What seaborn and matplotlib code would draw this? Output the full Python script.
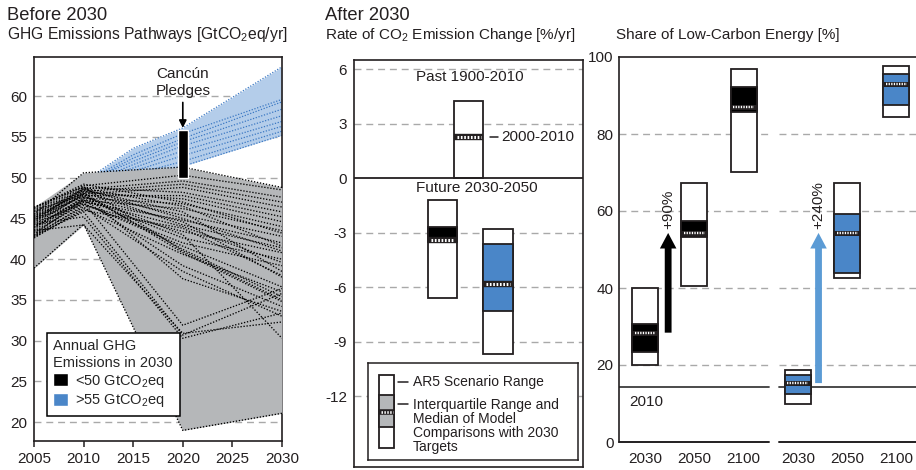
import numpy as np
import pandas as pd
import matplotlib
matplotlib.use("Agg")
import matplotlib.pyplot as plt
import seaborn as sns
from matplotlib.patches import Patch, FancyArrowPatch

# ---------------------------------------------------------------- data
# GHG emission pathways before 2030 [GtCO2eq/yr]
low_years = [2005, 2010, 2020, 2030]
low_paths = [
    [45.5, 50.6, 51.3, 48.8], [46.2, 49.0, 50.3, 48.5], [45.8, 48.6, 49.6, 47.6],
    [45.2, 48.3, 49.2, 47.0], [44.8, 48.0, 48.8, 46.4], [46.0, 48.8, 48.2, 45.8],
    [44.5, 47.8, 47.8, 45.2], [45.0, 48.2, 47.4, 44.6], [44.0, 47.5, 46.8, 44.0],
    [43.6, 47.2, 46.2, 43.5], [44.2, 48.0, 45.4, 42.8], [43.2, 47.0, 44.8, 42.0],
    [45.6, 48.4, 44.2, 41.4], [42.8, 46.6, 43.4, 40.8], [43.0, 47.4, 42.6, 40.0],
    [44.4, 46.8, 42.0, 39.2], [45.0, 48.5, 45.8, 38.5], [43.8, 47.6, 44.6, 37.8],
    [46.4, 48.9, 41.0, 35.0], [44.6, 47.9, 41.2, 35.4], [45.3, 48.1, 40.8, 34.8],
    [43.4, 46.8, 41.6, 36.6], [42.6, 46.2, 40.6, 36.0], [44.0, 47.3, 39.2, 34.2],
    [45.9, 48.0, 37.6, 33.6], [43.0, 46.4, 38.5, 33.0], [44.9, 47.0, 31.9, 36.4],
    [42.9, 45.8, 30.7, 35.8], [44.3, 45.2, 30.3, 33.4], [43.5, 44.2, 30.9, 32.3],
    [45.1, 47.7, 43.0, 30.3], [44.7, 48.7, 46.5, 41.6], [46.3, 49.2, 47.0, 43.2],
    [43.9, 47.1, 44.0, 39.6], [42.7, 46.0, 43.8, 38.0], [45.4, 48.6, 45.0, 41.0],
    [38.9, 44.3, 19.0, 21.1],
]
high_years = [2010, 2015, 2020, 2030]
high_paths = [
    [49.5, 53.6, 56.1, 63.6], [49.3, 52.8, 55.4, 59.6], [49.2, 52.4, 54.8, 59.3],
    [49.4, 52.0, 54.4, 58.4], [49.1, 51.6, 53.9, 57.6], [49.0, 51.2, 53.3, 56.9],
    [49.2, 50.8, 52.7, 56.3], [49.0, 50.4, 52.0, 55.7], [48.9, 50.0, 51.4, 55.2],
]
cancun_year = 2020
cancun_range = [50.0, 55.9]

# Rate of CO2 emission change [%/yr]
past_range = [0.0, 4.25]
past_median = 2.25
rate_low_range = [-6.6, -1.2]
rate_low_iqr = [-3.5, -2.7]
rate_low_median = -3.38
rate_high_range = [-9.7, -2.8]
rate_high_iqr = [-7.3, -3.6]
rate_high_median = -5.85

# Share of low-carbon energy [%]
share_years = ['2030', '2050', '2100']
low_share_lo = [20.0, 40.5, 70.2]
low_share_hi = [40.0, 67.3, 96.9]
low_share_q1 = [23.5, 53.2, 85.8]
low_share_q3 = [30.7, 57.5, 92.3]
low_share_med = [28.4, 54.3, 87.1]
high_share_lo = [9.9, 42.6, 84.4]
high_share_hi = [18.8, 67.3, 97.7]
high_share_q1 = [12.5, 44.0, 87.6]
high_share_q3 = [17.4, 59.3, 95.5]
high_share_med = [15.3, 54.3, 93.0]
share_2010 = 14.2

# ---------------------------------------------------------------- style
sns.set_style("white")
plt.rcParams['font.family'] = ['Liberation Sans', 'DejaVu Sans']
plt.rcParams['mathtext.fontset'] = 'custom'
plt.rcParams['mathtext.rm'] = 'Liberation Sans'
plt.rcParams['mathtext.it'] = 'Liberation Sans:italic'
plt.rcParams['mathtext.bf'] = 'Liberation Sans:bold'
plt.rcParams['axes.unicode_minus'] = False

TEXT = '#231f20'
EDGE = '#231f20'
GRID = '#a9a9a9'
GRAY_FILL = '#b5b7b9'
BLUE_FILL = '#b4cdea'
BLUE_LINE = '#3b78c3'
BLUE_BOX = '#4a86c8'
BLUE_ARROW = '#5b9bd5'
DASH = (0, (5, 3.5))
FS = 11

W, H = 916, 470
fig = plt.figure(figsize=(W / 100, H / 100), dpi=100)


def px_axes(left, top, right, bottom):
    return fig.add_axes([left / W, (H - bottom) / H, (right - left) / W, (bottom - top) / H])


def long_frame(years, paths):
    rows = [(i, y, v) for i, p in enumerate(paths) for y, v in zip(years, p)]
    return pd.DataFrame(rows, columns=['scenario', 'year', 'value'])


def style_spines(ax, lw=1.2):
    for s in ax.spines.values():
        s.set_color(EDGE)
        s.set_linewidth(lw)


def median_band(ax, x, w, m, lw_dark=4.6, lw_white=2.2, z=6):
    ax.plot([x - w / 2, x + w / 2], [m, m], color=EDGE, lw=lw_dark,
            solid_capstyle='butt', zorder=z)
    pad = w * 0.1
    ax.plot([x - w / 2 + pad, x + w / 2 - pad], [m, m], color='white', lw=lw_white,
            linestyle=(0, (0.55, 0.55)), dash_capstyle='butt', zorder=z + 1)


def range_box(ax, x, w, lo, hi, q1=None, q3=None, med=None, color=None,
              lw=1.3, band=(4.6, 2.2)):
    ax.bar(x, hi - lo, bottom=lo, width=w, facecolor='white', edgecolor=EDGE,
           linewidth=lw, zorder=3)
    if q1 is not None:
        ax.bar(x, q3 - q1, bottom=q1, width=w, facecolor=color, edgecolor=EDGE,
               linewidth=lw, zorder=4)
    if med is not None:
        median_band(ax, x, w, med, band[0], band[1])


# ---------------------------------------------------------------- titles
fig.text(7 / W, 1 - 20 / H, 'Before 2030', fontsize=13.2, color=TEXT, va='baseline')
fig.text(7 / W, 1 - 38.5 / H, r'GHG Emissions Pathways [GtCO$_2$eq/yr]', fontsize=11.3,
         color=TEXT, va='baseline')
fig.text(325 / W, 1 - 20 / H, 'After 2030', fontsize=13.2, color=TEXT, va='baseline')
fig.text(325 / W, 1 - 38.5 / H, r'Rate of CO$_2$ Emission Change [%/yr]', fontsize=FS,
         color=TEXT, va='baseline')
fig.text(616 / W, 1 - 38.5 / H, 'Share of Low-Carbon Energy [%]', fontsize=FS,
         color=TEXT, va='baseline')

# ---------------------------------------------------------------- panel 1
ax1 = px_axes(34, 57, 282, 441)
ax1.set_xlim(2005, 2030)
ax1.set_ylim(17.7, 64.8)

high = np.array(high_paths)
low = np.array(low_paths)
ax1.fill_between(high_years, high.min(axis=0), high.max(axis=0), color=BLUE_FILL,
                 lw=0, zorder=1)
sns.lineplot(data=long_frame(high_years, high_paths), x='year', y='value',
             units='scenario', estimator=None, sort=False, color=BLUE_LINE, lw=0.9,
             linestyle=(0, (1, 1.3)), legend=False, ax=ax1, zorder=2)
ax1.fill_between(low_years, low.min(axis=0), low.max(axis=0), color=GRAY_FILL,
                 lw=0, zorder=3)
sns.lineplot(data=long_frame(low_years, low_paths), x='year', y='value',
             units='scenario', estimator=None, sort=False, color='black', lw=0.95,
             linestyle=(0, (1, 1.3)), legend=False, ax=ax1, zorder=4)

ax1.bar(cancun_year, cancun_range[1] - cancun_range[0], bottom=cancun_range[0],
        width=1.0, color='black', zorder=5)
ax1.annotate('Cancún\nPledges', xy=(cancun_year, cancun_range[1] + 0.2),
             xytext=(cancun_year, 59.8), ha='center', va='bottom', fontsize=FS,
             color=TEXT, linespacing=1.25,
             arrowprops=dict(arrowstyle='-|>', color='black', lw=1.2,
                             shrinkA=1, shrinkB=0, mutation_scale=11))

ax1.set_yticks([20, 25, 30, 35, 40, 45, 50, 55, 60])
ax1.set_xticks([2005, 2010, 2015, 2020, 2025, 2030])
ax1.grid(axis='y', color=GRID, linestyle=DASH, lw=1)
ax1.grid(axis='x', visible=False)
ax1.set_axisbelow(True)
ax1.tick_params(axis='x', direction='out', length=4, width=1.1, color=EDGE,
                labelsize=FS, labelcolor=TEXT, pad=4, bottom=True)
ax1.tick_params(axis='y', length=0, labelsize=FS, labelcolor=TEXT, pad=5)
ax1.set_xlabel('')
ax1.set_ylabel('')
style_spines(ax1)

leg = ax1.legend([Patch(facecolor='black'), Patch(facecolor=BLUE_BOX)],
                 [r'<50 GtCO$_2$eq', r'>55 GtCO$_2$eq'],
                 title='Annual GHG\nEmissions in 2030', loc='lower left',
                 bbox_to_anchor=(0.052, 0.065), borderaxespad=0, frameon=True,
                 fancybox=False, edgecolor='black', framealpha=1, fontsize=10.5,
                 title_fontsize=10.5, alignment='left', handlelength=1.0,
                 handleheight=1.0, handletextpad=0.45, borderpad=0.45,
                 labelspacing=0.2)
leg.get_frame().set_linewidth(1.1)
leg.set_zorder(10)

# ---------------------------------------------------------------- panel 2
ax2 = px_axes(354, 60, 583, 467)
ax2.set_xlim(-3.19, 5.06)
ax2.set_ylim(-15.9, 6.5)
box_w2 = 1.05
x_low, x_past, x_high = 0.0, 0.95, 2.0
for v in [6, 3, -3, -6, -9, -12]:
    ax2.axhline(v, color=GRID, linestyle=DASH, lw=1, zorder=0.5)
ax2.axhline(0, color=EDGE, lw=1.3, zorder=5)

range_box(ax2, x_past, box_w2, past_range[0], past_range[1], med=past_median)
range_box(ax2, x_low, box_w2, rate_low_range[0], rate_low_range[1],
          rate_low_iqr[0], rate_low_iqr[1], rate_low_median, color='black')
range_box(ax2, x_high, box_w2, rate_high_range[0], rate_high_range[1],
          rate_high_iqr[0], rate_high_iqr[1], rate_high_median, color=BLUE_BOX)

lead_x0 = x_past + box_w2 / 2 + 0.22
ax2.plot([lead_x0, lead_x0 + 0.3], [past_median, past_median], color=EDGE, lw=1.1)
ax2.text(lead_x0 + 0.42, past_median, '2000-2010', va='center', ha='left',
         fontsize=FS, color=TEXT)
ax2.text(x_past + 0.04, 5.56, 'Past 1900-2010', ha='center', va='center',
         fontsize=FS, color=TEXT)
ax2.text(1.25, -0.56, 'Future 2030-2050', ha='center', va='center',
         fontsize=FS, color=TEXT)

ax2.set_xticks([])
ax2.set_yticks([6, 3, 0, -3, -6, -9, -12])
ax2.tick_params(axis='y', length=0, labelsize=FS, labelcolor=TEXT, pad=5)
style_spines(ax2)

# legend key for the box symbols
axk = px_axes(368, 363, 578, 460)
axk.set_xlim(0, 210)
axk.set_ylim(97, 0)
axk.set_xticks([])
axk.set_yticks([])
style_spines(axk, 1.1)
axk.bar(18.5, 73, bottom=12, width=15, facecolor='white', edgecolor=EDGE, lw=1.3)
axk.bar(18.5, 32, bottom=32, width=15, facecolor=GRAY_FILL, edgecolor=EDGE, lw=1.3)
median_band(axk, 18.5, 15, 49, 4.0, 1.9)
for yk in (19, 41):
    axk.plot([30, 40], [yk, yk], color=EDGE, lw=1.1)
axk.text(45, 19, 'AR5 Scenario Range', va='center', ha='left', fontsize=10,
         color=TEXT)
axk.text(45, 63, 'Interquartile Range and\nMedian of Model\nComparisons with 2030\nTargets',
         va='center', ha='left', fontsize=10, color=TEXT, linespacing=1.02)

# ---------------------------------------------------------------- panel 3
ax3 = px_axes(619, 57, 916, 442)
ax3.set_xlim(-0.527, 5.497)
ax3.set_ylim(0, 100)
pos_low = [0.0, 1.0, 2.0]
pos_high = [3.1, 4.1, 5.1]
box_w3 = 0.53
x0, x1 = ax3.get_xlim()
gap_lo = (2.52 - x0) / (x1 - x0)
gap_hi = (2.72 - x0) / (x1 - x0)

for v in [20, 40, 60, 80]:
    ax3.axhline(v, xmin=0, xmax=gap_lo, color=GRID, linestyle=DASH, lw=1, zorder=0.5)
    ax3.axhline(v, xmin=gap_hi, xmax=1, color=GRID, linestyle=DASH, lw=1, zorder=0.5)
for a, b in ((0, gap_lo), (gap_hi, 1)):
    ax3.axhline(share_2010, xmin=a, xmax=b, color='#3d3d3d', lw=1.3, zorder=2)
    ax3.axhline(0, xmin=a, xmax=b, color=EDGE, lw=1.4, zorder=5, clip_on=False)

for i in range(3):
    range_box(ax3, pos_low[i], box_w3, low_share_lo[i], low_share_hi[i],
              low_share_q1[i], low_share_q3[i], low_share_med[i], color='black',
              band=(3.6, 1.7))
    range_box(ax3, pos_high[i], box_w3, high_share_lo[i], high_share_hi[i],
              high_share_q1[i], high_share_q3[i], high_share_med[i], color=BLUE_BOX,
              band=(3.6, 1.7))

arrow_style = 'simple,head_length=0.8,head_width=0.85,tail_width=0.35'
for ax_x, lo_m, hi_m, col, lab in (
        (0.47, low_share_med[0], low_share_med[1], 'black', '+90%'),
        (3.52, high_share_med[0], high_share_med[1], BLUE_ARROW, '+240%')):
    ax3.add_patch(FancyArrowPatch((ax_x, lo_m), (ax_x, hi_m), arrowstyle=arrow_style,
                                  mutation_scale=14, color=col, lw=0,
                                  shrinkA=0, shrinkB=0, zorder=6))
    ax3.text(ax_x, hi_m + 1.0, lab, rotation=90, ha='center', va='bottom',
             fontsize=FS, color=TEXT)

ax3.text(-0.32, 10.4, '2010', ha='left', va='center', fontsize=FS, color=TEXT)

ax3.set_xticks(pos_low + pos_high)
ax3.set_xticklabels(share_years + share_years)
ax3.set_yticks([0, 20, 40, 60, 80, 100])
ax3.tick_params(axis='x', length=0, labelsize=FS, labelcolor=TEXT, pad=7)
ax3.tick_params(axis='y', length=0, labelsize=FS, labelcolor=TEXT, pad=4)
style_spines(ax3)
ax3.spines['bottom'].set_visible(False)
ax3.spines['right'].set_visible(False)

fig.savefig('out.png', dpi=100, facecolor='white')
